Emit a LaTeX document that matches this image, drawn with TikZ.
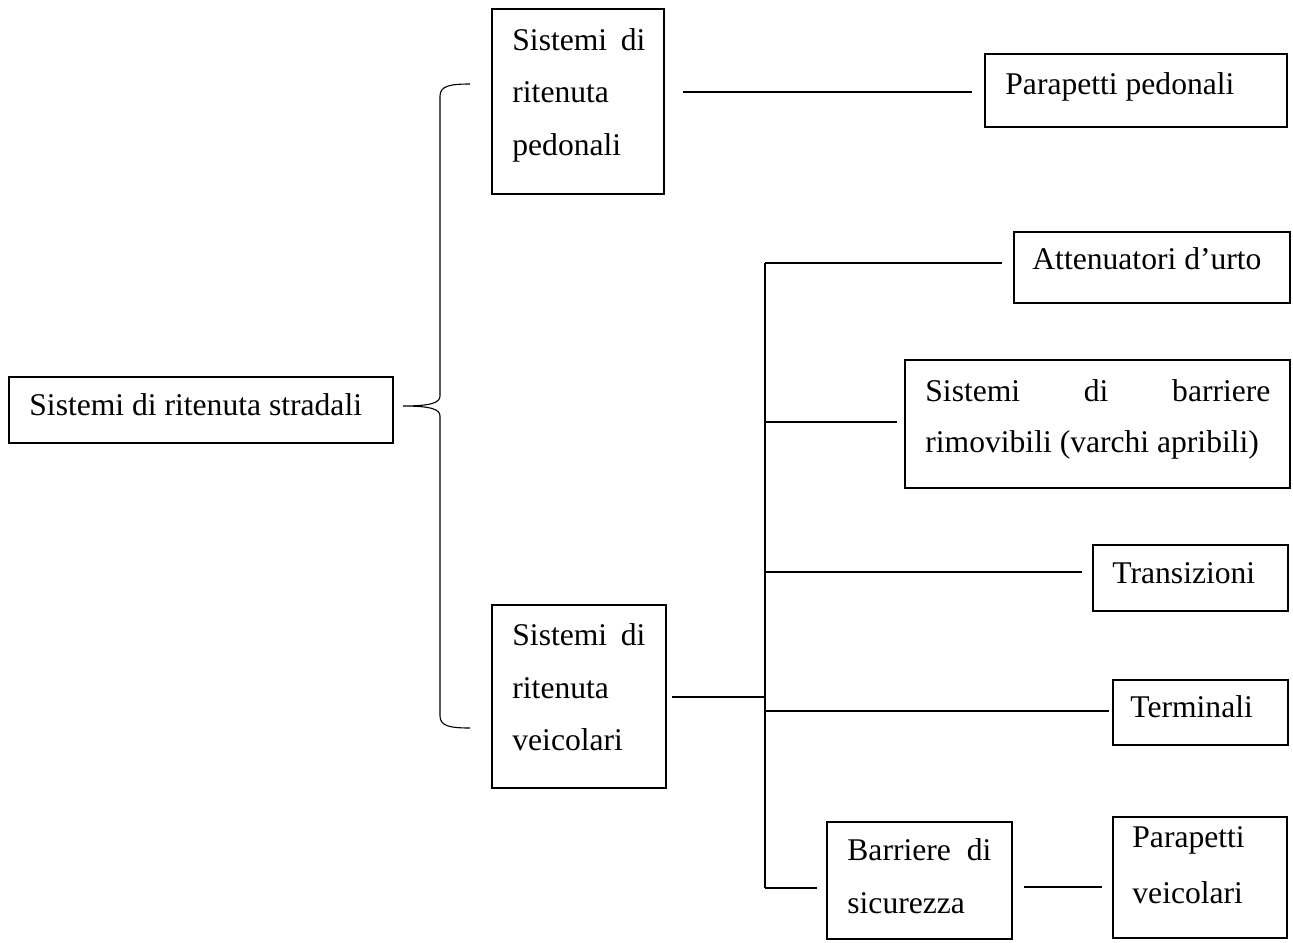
\documentclass[tikz,border=0pt]{standalone}
\usepackage{fontspec}
\setmainfont{Liberation Serif}
\usetikzlibrary{fit}
\begin{document}
\begin{tikzpicture}[x=0.5pt,y=-0.5pt,
  box/.style={draw, line width=0.65pt, inner sep=0pt},
  txt/.style={anchor=base west, inner sep=0pt, font=\fontsize{15.8}{19}\selectfont},
  thin/.style={line width=0.55pt},
  thick2/.style={line width=1pt}]
\useasboundingbox (0,0) rectangle (1293,942);
% boxes
\node[box, fit={(9,377) (393,443)}] (root) {};
\node[box, fit={(492,9) (664,194)}] (ped) {};
\node[box, fit={(492,605) (666,788)}] (vei) {};
\node[box, fit={(985,54) (1287,127)}] (pp) {};
\node[box, fit={(1014,232) (1290,303)}] (att) {};
\node[box, fit={(905,360) (1290,488)}] (sbr) {};
\node[box, fit={(1093,545) (1288,611)}] (tra) {};
\node[box, fit={(1113,680) (1288,745)}] (ter) {};
\node[box, fit={(827,822) (1012,939)}] (bar) {};
\node[box, fit={(1113,817) (1287,938)}] (pv) {};
% texts
\node[txt] (t-root) at (29,415) {Sistemi di ritenuta stradali};
\node[txt] (t-ped1) at (512,50) {\makebox[66.5pt][s]{Sistemi di}};
\node[txt] (t-ped2) at (512,102) {ritenuta};
\node[txt] (t-ped3) at (512,155) {pedonali};
\node[txt] (t-vei1) at (512,645) {\makebox[66.5pt][s]{Sistemi di}};
\node[txt] (t-vei2) at (512,698) {ritenuta};
\node[txt] (t-vei3) at (512,750) {veicolari};
\node[txt] (t-pp) at (1005,94) {Parapetti pedonali};
\node[txt] (t-att) at (1032,269) {Attenuatori d’urto};
\node[txt] (t-sbr1) at (925,401) {\makebox[172.5pt][s]{Sistemi di barriere}};
\node[txt] (t-sbr2) at (925,452) {rimovibili (varchi apribili)};
\node[txt] (t-tra) at (1112,583) {Transizioni};
\node[txt] (t-ter) at (1130,717) {Terminali};
\node[txt] (t-bar1) at (847,860) {\makebox[72pt][s]{Barriere di}};
\node[txt] (t-bar2) at (847,913) {sicurezza};
\node[txt] (t-pv1) at (1132,847) {Parapetti};
\node[txt] (t-pv2) at (1132,903) {veicolari};
% connector coordinates
\coordinate (tip) at (403,406);
\coordinate (btop) at (470,84);
\coordinate (bbot) at (470,728);
\coordinate (p1) at (683,92);
\coordinate (p2) at (972,92);
\coordinate (v1) at (672,697);
\coordinate (bus-top) at (765,263);
\coordinate (bus-bot) at (765,888);
\coordinate (bus-v) at (765,697);
\coordinate (bus-sbr) at (765,422);
\coordinate (bus-tra) at (765,572);
\coordinate (bus-ter) at (765,711);
\coordinate (e-att) at (1002,263);
\coordinate (e-sbr) at (897,422);
\coordinate (e-tra) at (1082,572);
\coordinate (e-ter) at (1109,711);
\coordinate (e-bar) at (817,888);
\coordinate (q1) at (1024,887);
\coordinate (q2) at (1102,887);
% brace
\draw[thin] (btop) .. controls (450,84) and (440,86) .. (440,96)
  -- (440,396) .. controls (440,403) and (430,406) .. (tip)
  .. controls (430,406) and (440,409) .. (440,416)
  -- (440,716) .. controls (440,726) and (450,728) .. (bbot);
% connectors
\draw[thin] (p1) -- (p2);
\draw[thin] (v1) -- (bus-v);
\draw[thin] (bus-top) -- (bus-bot);
\draw[thin] (bus-top) -- (e-att);
\draw[thick2] (bus-sbr) -- (e-sbr);
\draw[thin] (bus-tra) -- (e-tra);
\draw[thick2] (bus-ter) -- (e-ter);
\draw[thin] (bus-bot) -- (e-bar);
\draw[thick2] (q1) -- (q2);
\end{tikzpicture}
\end{document}
